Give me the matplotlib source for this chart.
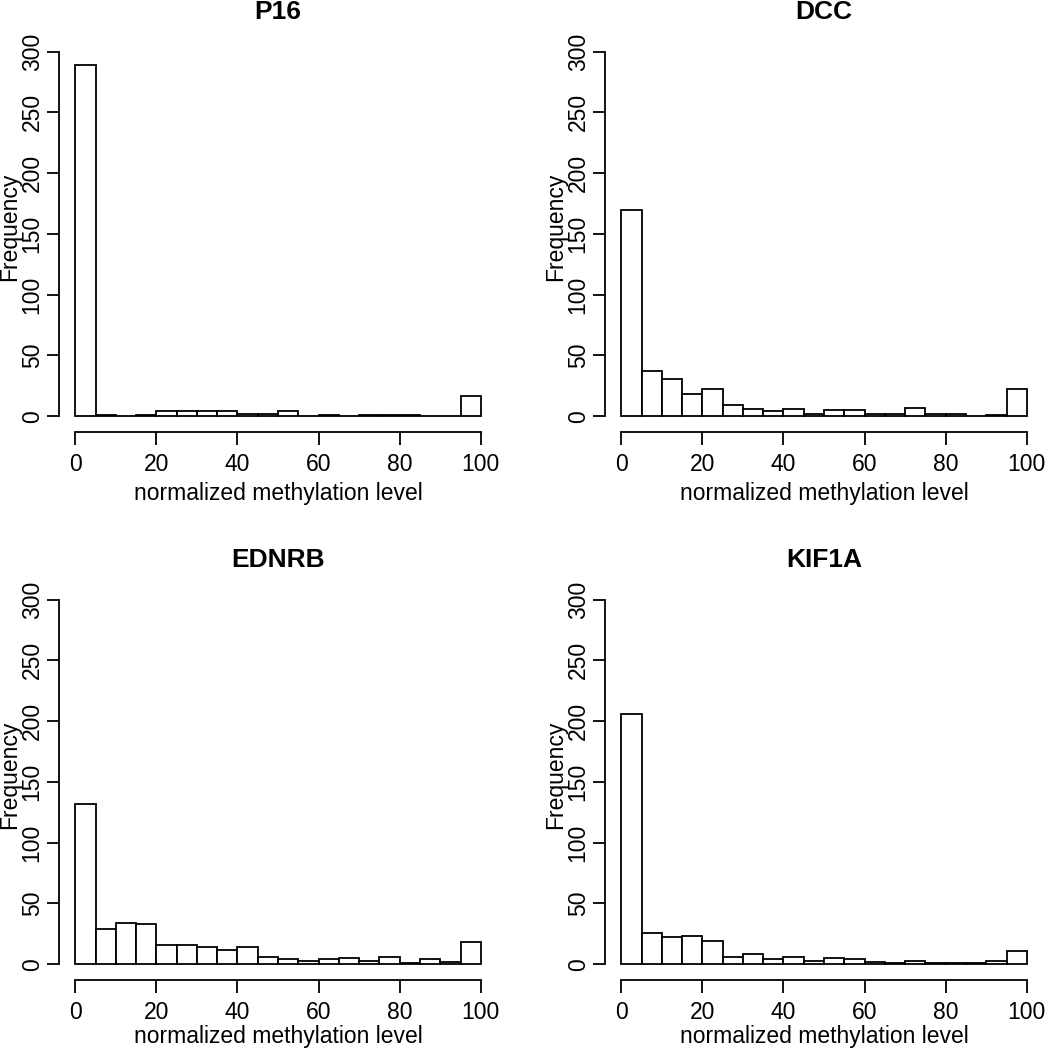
import numpy as np
import matplotlib
matplotlib.use("Agg")
import matplotlib.pyplot as plt

plt.rcParams["font.family"] = ["Liberation Sans", "DejaVu Sans"]

# histogram bins: 0-100 in steps of 5
BIN_EDGES = list(range(0, 101, 5))

TITLES = ["P16", "DCC", "EDNRB", "KIF1A"]

p16_counts   = [289, 1, 0, 1, 4, 4, 4, 4, 2, 2, 4, 0, 1, 0, 1, 1, 1, 0, 0, 17]
dcc_counts   = [170, 37, 31, 18, 22, 9, 6, 4, 6, 2, 5, 5, 2, 2, 7, 2, 2, 0, 1, 22]
ednrb_counts = [132, 29, 34, 33, 16, 16, 14, 12, 14, 6, 4, 3, 4, 5, 3, 6, 1, 4, 2, 18]
kif1a_counts = [206, 26, 22, 23, 19, 6, 8, 4, 6, 3, 5, 4, 2, 1, 3, 1, 1, 1, 3, 11]

COUNTS = [p16_counts, dcc_counts, ednrb_counts, kif1a_counts]

Y_TICKS = [0, 50, 100, 150, 200, 250, 300]
X_TICKS = [0, 20, 40, 60, 80, 100]

W, H = 1046, 1050
fig = plt.figure(figsize=(W / 100, H / 100), dpi=100)

# axes boxes in pixels: (left, top, width, height)
boxes = [(59, 37, 438, 395), (605, 37, 438, 395),
         (59, 585, 438, 395), (605, 585, 438, 395)]

lefts = np.array(BIN_EDGES[:-1])
for i, ((l, t, w, h), title, counts) in enumerate(zip(boxes, TITLES, COUNTS)):
    ax = fig.add_axes([l / W, (H - t - h) / H, w / W, h / H])
    ax.bar(lefts, counts, width=5, align="edge", facecolor="white",
           edgecolor="black", linewidth=1.3)
    ax.set_xlim(-4, 104)
    ax.set_ylim(-13, 312)

    for s in ["top", "right"]:
        ax.spines[s].set_visible(False)
    ax.spines["left"].set_bounds(0, 300)
    ax.spines["bottom"].set_bounds(0, 100)
    for s in ["left", "bottom"]:
        ax.spines[s].set_linewidth(1.3)

    ax.set_xticks(X_TICKS)
    ax.set_yticks(Y_TICKS)
    ax.tick_params(axis="both", length=9, width=1.3, labelsize=16.5)
    ax.tick_params(axis="x", pad=6)
    ax.tick_params(axis="y", pad=2)
    for lab in ax.get_yticklabels():
        lab.set_rotation(90)
        lab.set_va("center")

    ax.set_title(title, fontsize=19, fontweight="bold", pad=13)
    ax.set_xlabel("normalized methylation level", fontsize=16.5)
    ax.set_ylabel("Frequency", fontsize=16.5)
    # bottom row sits close to the figure edge, nudge its label up a bit
    ax.xaxis.set_label_coords(0.5, -0.126 if i < 2 else -0.114)
    ax.yaxis.set_label_coords(-0.086, 0.52)

fig.savefig("out.png", dpi=100)
